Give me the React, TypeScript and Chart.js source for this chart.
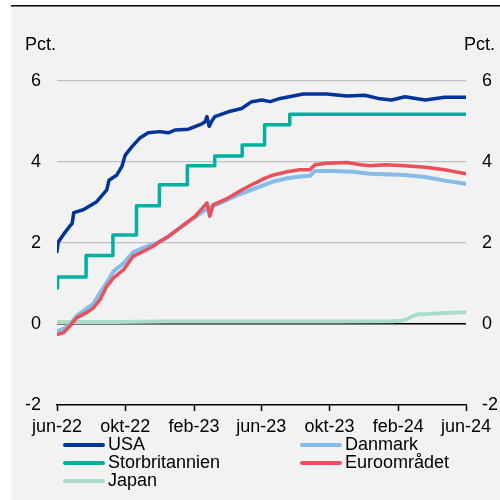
import React, { useEffect, useRef } from "react";
import { Chart, registerables } from "chart.js";

Chart.register(...registerables);

// x positions are days since the first observation (mid-June 2022)
const xTickDays = [0, 122, 245, 365, 487, 610, 731];
const xTickLabels = ["jun-22", "okt-22", "feb-23", "jun-23", "okt-23", "feb-24", "jun-24"];
const yTicks = [-2, 0, 2, 4, 6];

const usaDays = [0, 2, 11, 23, 27, 30, 47, 71, 89, 93, 107, 116, 122, 134, 148, 163, 184, 199, 211, 235, 259, 265, 268, 272, 277, 282, 306, 330, 348, 366, 381, 399, 440, 482, 518, 550, 574, 598, 622, 658, 693, 731];
const usaValues = [1.79, 2.02, 2.2, 2.42, 2.48, 2.75, 2.82, 3.02, 3.31, 3.55, 3.68, 3.89, 4.17, 4.38, 4.59, 4.72, 4.75, 4.72, 4.79, 4.81, 4.94, 5.0, 5.12, 4.88, 5.02, 5.12, 5.24, 5.32, 5.49, 5.53, 5.49, 5.57, 5.68, 5.68, 5.63, 5.65, 5.57, 5.53, 5.61, 5.53, 5.6, 5.6];

const dkDays = [0, 11, 23, 35, 53, 65, 77, 89, 101, 119, 136, 154, 172, 184, 199, 235, 270, 294, 324, 354, 372, 387, 411, 434, 452, 461, 493, 529, 559, 586, 622, 658, 693, 731];
const dkValues = [-0.18, -0.12, -0.02, 0.2, 0.38, 0.5, 0.77, 1.02, 1.3, 1.5, 1.77, 1.88, 1.97, 2.03, 2.16, 2.53, 2.86, 3.0, 3.19, 3.35, 3.44, 3.52, 3.6, 3.64, 3.66, 3.78, 3.78, 3.76, 3.71, 3.7, 3.68, 3.63, 3.54, 3.46];

const ukDays = [0, 1, 52, 100, 142, 183, 233, 282, 331, 371, 416, 731];
const ukValues = [0.89, 1.16, 1.69, 2.2, 2.92, 3.44, 3.91, 4.15, 4.42, 4.92, 5.18, 5.18];

const euDays = [0, 11, 23, 35, 53, 65, 77, 89, 101, 119, 136, 154, 172, 184, 199, 223, 247, 261, 268, 273, 279, 306, 330, 354, 372, 387, 411, 434, 452, 461, 482, 518, 542, 559, 586, 622, 658, 693, 731];
const euValues = [-0.26, -0.22, -0.05, 0.15, 0.28, 0.4, 0.6, 0.93, 1.14, 1.34, 1.67, 1.79, 1.92, 2.04, 2.16, 2.41, 2.66, 2.88, 2.99, 2.66, 2.94, 3.11, 3.31, 3.48, 3.6, 3.68, 3.76, 3.81, 3.81, 3.93, 3.97, 3.99, 3.93, 3.91, 3.93, 3.91, 3.87, 3.81, 3.71];

const jpDays = [0, 100, 200, 300, 400, 500, 600, 615, 622, 634, 645, 667, 693, 731];
const jpValues = [0.05, 0.05, 0.06, 0.06, 0.06, 0.06, 0.07, 0.08, 0.1, 0.18, 0.24, 0.25, 0.27, 0.29];

const seriesLabels = ["USA", "Danmark", "Storbritannien", "Euroområdet", "Japan"];
const seriesColors = ["#00349a", "#86bce8", "#00b0a0", "#e9505c", "#acdcc8"];

const FONT = "'Liberation Sans', Arial, sans-serif";

function pts(days: number[], vals: number[]) {
  return days.map((d, i) => ({ x: d, y: vals[i] }));
}

const bgPlugin = {
  id: "bgPlugin",
  beforeDraw(chart: any) {
    const ctx = chart.ctx;
    ctx.save();
    ctx.fillStyle = "#ffffff";
    ctx.fillRect(0, 0, chart.width, chart.height);
    ctx.fillStyle = "#f2f2f2";
    ctx.fillRect(11, 6, chart.width - 11, chart.height - 6);
    ctx.fillStyle = "#000000";
    ctx.fillRect(11, 5, chart.width - 11, 1.5);
    ctx.restore();
  },
};

const textPlugin = {
  id: "textPlugin",
  afterDraw(chart: any) {
    const ctx = chart.ctx;
    ctx.save();
    ctx.font = `18px ${FONT}`;
    ctx.fillStyle = "#000";
    ctx.textBaseline = "middle";
    ctx.textAlign = "left";
    ctx.fillText("Pct.", 25, 45);
    ctx.textAlign = "right";
    ctx.fillText("Pct.", 495, 45);
    // legend
    const colX = [65, 302];
    const rowY = [445, 463, 481];
    chart.data.datasets.forEach((ds: any, i: number) => {
      const x = colX[i % 2];
      const y = rowY[Math.floor(i / 2)];
      ctx.strokeStyle = ds.borderColor;
      ctx.lineWidth = 4;
      ctx.lineCap = "round";
      ctx.beginPath();
      ctx.moveTo(x, y);
      ctx.lineTo(x + 38, y);
      ctx.stroke();
      ctx.textAlign = "left";
      ctx.fillStyle = "#000";
      ctx.fillText(ds.label, x + 43, y);
    });
    ctx.restore();
  },
};

export default function App() {
  const ref = useRef<HTMLCanvasElement | null>(null);
  useEffect(() => {
    if (!ref.current) return;
    const seriesData = [
      pts(usaDays, usaValues),
      pts(dkDays, dkValues),
      pts(ukDays, ukValues),
      pts(euDays, euValues),
      pts(jpDays, jpValues),
    ];
    const orders = [0, 2, 3, 1, 4];
    const datasets = seriesLabels.map((label, i) => ({
      label,
      data: seriesData[i],
      borderColor: seriesColors[i],
      backgroundColor: seriesColors[i],
      borderWidth: i === 1 || i === 4 ? 4 : 3.5,
      pointRadius: 0,
      tension: 0,
      stepped: i === 2 ? ("before" as const) : false,
      order: orders[i],
      borderJoinStyle: "round" as const,
      borderCapStyle: "round" as const,
    }));
    const tickFont = { family: FONT, size: 18 };
    const chart = new Chart(ref.current, {
      type: "line",
      data: { datasets },
      plugins: [bgPlugin, textPlugin],
      options: {
        animation: false,
        responsive: false,
        layout: { padding: { top: 81, left: 0, right: 0, bottom: 0 } },
        plugins: { legend: { display: false }, tooltip: { enabled: false } },
        scales: {
          x: {
            type: "linear",
            min: 0,
            max: 731,
            afterBuildTicks: (scale: any) => {
              scale.ticks = xTickDays.map((v) => ({ value: v }));
            },
            afterFit: (scale: any) => {
              scale.height = 95;
            },
            ticks: {
              autoSkip: false,
              maxRotation: 0,
              padding: 5,
              color: "#000",
              font: tickFont,
              callback: (value: any) => {
                const idx = xTickDays.indexOf(Number(value));
                return idx >= 0 ? xTickLabels[idx] : "";
              },
            },
            grid: {
              drawOnChartArea: false,
              drawTicks: true,
              tickLength: 6,
              tickColor: "#000",
              tickWidth: 1.5,
            },
            border: { display: true, color: "#000", width: 1.5 },
          },
          y: {
            position: "left",
            min: -2,
            max: 6,
            afterBuildTicks: (scale: any) => {
              scale.ticks = yTicks.map((v) => ({ value: v }));
            },
            afterFit: (scale: any) => {
              scale.width = 57;
            },
            ticks: { padding: 16, color: "#000", font: tickFont },
            grid: {
              drawTicks: false,
              color: (c: any) =>
                c.tick && c.tick.value === 0 ? "#000" : c.tick && c.tick.value === -2 ? "rgba(0,0,0,0)" : "#c0c0c0",
              lineWidth: (c: any) => (c.tick && c.tick.value === 0 ? 1.5 : 1.2),
            },
            border: { display: false },
          },
          y2: {
            position: "right",
            min: -2,
            max: 6,
            afterBuildTicks: (scale: any) => {
              scale.ticks = yTicks.map((v) => ({ value: v }));
            },
            afterFit: (scale: any) => {
              scale.width = 34;
            },
            ticks: { padding: 16, color: "#000", font: tickFont },
            grid: { display: false, drawTicks: false },
            border: { display: false },
          },
        },
      },
    });
    return () => chart.destroy();
  }, []);
  return (
    <div style={{ position: "absolute", left: 0, top: 0, width: 500, height: 500 }}>
      <canvas ref={ref} width={500} height={500} style={{ width: 500, height: 500, display: "block" }} />
    </div>
  );
}
